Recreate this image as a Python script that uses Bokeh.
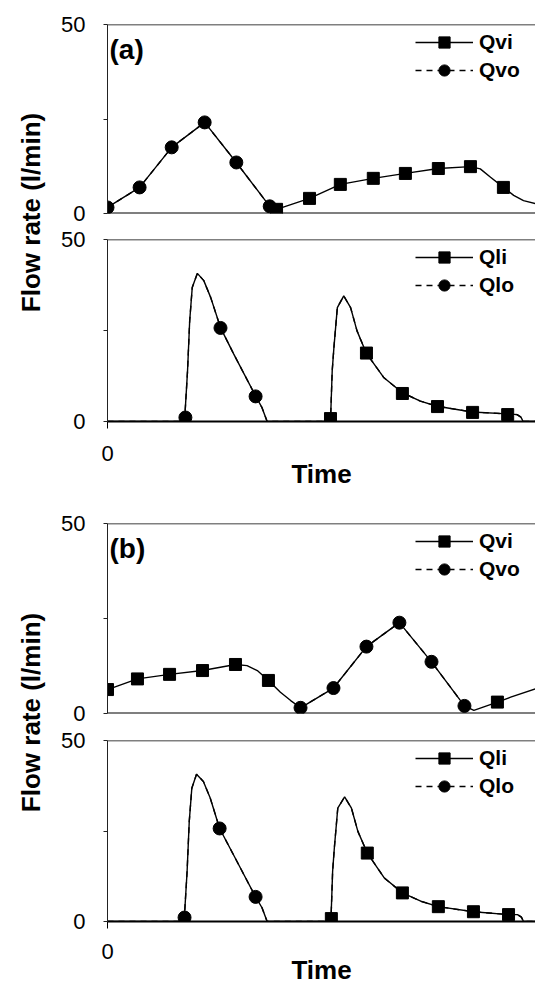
from bokeh.plotting import figure
from bokeh.layouts import column, row
from bokeh.models import Range1d, Span, Label, Legend, LegendItem, FixedTicker
from bokeh.embed import file_html
from bokeh.resources import INLINE

FONT = "Liberation Sans"

# ---------------- data (time in arbitrary units 0..100, flow in l/min) -------------
# Panel (a) upper: vapour flows
a_up_qvo_t = [0.0, 7.5, 15.0, 22.7, 30.1, 37.9]
a_up_qvo_v = [1.6, 6.9, 17.5, 24.1, 13.5, 1.9]
a_up_qvi_t = [39.5, 47.2, 54.4, 62.1, 69.6, 77.3, 84.8, 92.5]
a_up_qvi_v = [1.1, 4.0, 7.7, 9.3, 10.6, 11.9, 12.4, 6.9]
a_up_curve_vo_t = [0.0, 7.5, 15.0, 22.7, 30.1, 37.9]
a_up_curve_vo_v = [1.6, 6.9, 17.5, 24.1, 13.5, 1.9]
a_up_curve_vi_t = [37.9, 39.5, 47.2, 54.4, 62.1, 69.6, 77.3, 84.8, 87.1, 89.5, 92.5, 94.9, 97.2, 100.0]
a_up_curve_vi_v = [1.9, 1.1, 4.0, 7.7, 9.3, 10.6, 11.9, 12.4, 11.8, 9.6, 6.9, 4.8, 3.4, 2.6]

# Panel (a) lower: liquid flows
a_lo_qlo_t = [18.2, 26.4, 34.6]
a_lo_qlo_v = [1.1, 25.7, 6.9]
a_lo_qli_t = [52.1, 60.5, 68.9, 77.1, 85.3, 93.5]
a_lo_qli_v = [0.8, 18.8, 7.7, 4.1, 2.5, 1.9]
a_lo_curve_t = [0.0, 18.0, 18.7, 19.2, 19.8, 21.0, 22.5, 24.1, 26.4, 29.5, 34.6, 36.1, 37.3,
                52.1, 52.5, 52.9, 53.7, 55.2, 56.8, 58.3, 60.5, 64.6, 68.9, 73.1, 77.0, 85.2,
                93.4, 95.7, 96.6, 97.1, 100.0]
a_lo_curve_v = [0.0, 0.0, 13.9, 27.6, 36.8, 40.7, 38.7, 34.1, 25.8, 18.5, 7.0, 3.8, 0.0,
                0.0, 13.9, 20.3, 31.3, 34.5, 31.3, 24.9, 18.7, 12.0, 7.9, 5.6, 4.2, 2.6,
                2.1, 1.9, 1.2, 0.0, 0.0]

# Panel (b) upper
b_up_qvi1_t = [0.0, 7.0, 14.5, 22.2, 29.9, 37.6]
b_up_qvi1_v = [6.3, 9.1, 10.3, 11.3, 12.9, 8.7]
b_up_qvo_t = [45.1, 52.8, 60.5, 68.2, 75.7, 83.4]
b_up_qvo_v = [1.5, 6.7, 17.6, 23.9, 13.6, 2.0]
b_up_qvi2_t = [91.1]
b_up_qvi2_v = [3.0]
b_up_curve_vi1_t = [0.0, 7.0, 14.5, 22.2, 29.9, 32.6, 35.0, 37.6, 40.4, 42.8, 45.1]
b_up_curve_vi1_v = [6.3, 9.1, 10.3, 11.3, 12.9, 12.6, 11.3, 8.7, 5.6, 3.4, 1.5]
b_up_curve_vo_t = [45.1, 52.8, 60.5, 68.2, 75.7, 83.4]
b_up_curve_vo_v = [1.5, 6.7, 17.6, 23.9, 13.6, 2.0]
b_up_curve_vi2_t = [83.4, 85.6, 91.1, 94.2, 100.0]
b_up_curve_vi2_v = [2.0, 0.8, 3.0, 4.3, 6.5]

# Panel (b) lower
b_lo_qlo_t = [18.0, 26.2, 34.6]
b_lo_qlo_v = [1.1, 25.7, 6.8]
b_lo_qli_t = [52.3, 60.7, 68.9, 77.3, 85.5, 93.7]
b_lo_qli_v = [0.8, 18.9, 7.9, 4.1, 2.7, 1.9]
b_lo_curve_t = [0.0, 17.9, 18.6, 19.1, 19.7, 20.8, 22.4, 24.0, 26.2, 29.4, 34.6, 36.1, 37.3,
                52.2, 52.6, 53.0, 53.8, 55.4, 57.0, 58.5, 60.7, 64.7, 68.9, 73.2, 77.3, 85.5,
                93.7, 95.8, 96.7, 97.2, 100.0]
b_lo_curve_v = [0.0, 0.0, 13.9, 27.6, 36.8, 40.7, 38.7, 34.1, 25.7, 18.5, 6.8, 3.8, 0.0,
                0.0, 13.9, 20.3, 31.3, 34.4, 31.3, 24.9, 18.9, 12.0, 7.9, 5.6, 4.1, 2.7,
                1.9, 1.9, 1.2, 0.0, 0.0]

y_ticks = [0, 25, 50]
x_ticks = [0]

# ---------------- layout constants ----------------
TOTAL_W = 535
W0 = 53           # width of the y-label strip
PW = TOTAL_W - W0 # width of panel figures
BL = 54           # left border of panel figures -> frame starts at x=107


def base_panel(height, btop, bbot, with_xaxis, lab_standoff=17, title_standoff=-5):
    p = figure(width=PW, height=height, x_range=Range1d(0, 100), y_range=Range1d(0, 50),
               output_backend="svg", toolbar_location=None,
               x_axis_location="below" if with_xaxis else None,
               min_border_left=BL, min_border_right=0,
               min_border_top=btop, min_border_bottom=bbot)
    p.outline_line_color = None
    p.grid.visible = False
    p.background_fill_color = "white"
    ya = p.yaxis[0]
    ya.ticker = FixedTicker(ticks=y_ticks)
    ya.major_label_overrides = {25: ""}
    ya.minor_tick_line_color = None
    ya.major_tick_out = 4
    ya.major_tick_in = 0
    ya.major_label_standoff = 18
    ya.major_label_text_font = FONT
    ya.major_label_text_font_size = "22px"
    ya.major_label_text_color = "black"
    ya.axis_line_color = "#222222"
    ya.major_tick_line_color = "#222222"
    p.add_layout(Span(location=50, dimension="width", line_color="black", line_width=1.5))
    if with_xaxis:
        xa = p.xaxis[0]
        xa.ticker = FixedTicker(ticks=x_ticks)
        xa.minor_tick_line_color = None
        xa.major_tick_out = 7
        xa.major_tick_in = 0
        xa.major_label_standoff = lab_standoff
        xa.major_label_text_font = FONT
        xa.major_label_text_font_size = "22px"
        xa.major_label_text_color = "black"
        xa.axis_line_color = "black"
        xa.axis_line_width = 2
        xa.axis_label = "Time"
        xa.axis_label_text_font = FONT
        xa.axis_label_text_font_size = "26px"
        xa.axis_label_text_font_style = "bold"
        xa.axis_label_text_color = "black"
        xa.axis_label_standoff = title_standoff
    else:
        p.add_layout(Span(location=0, dimension="width", line_color="black", line_width=2))
    return p


def add_legend(p, items):
    leg = Legend(items=items, location="top_right", border_line_color=None,
                 background_fill_alpha=0, label_text_font=FONT,
                 label_text_font_size="21px", label_text_font_style="bold",
                 glyph_width=58, glyph_height=28, label_standoff=6, label_width=52,
                 spacing=0, padding=0, margin=4)
    leg.label_text_color = "black"
    p.add_layout(leg)


def curve(p, t, v, dash="solid"):
    return p.line(t, v, line_color="black", line_width=1.4, line_dash=dash)


def squares(p, t, v):
    return p.scatter(t, v, marker="square", size=12, color="black")


def circles(p, t, v):
    return p.scatter(t, v, marker="circle", size=13, color="black")


def tag(p, text):
    p.add_layout(Label(x=0, y=50, x_offset=2, y_offset=-25, text=text,
                       text_font=FONT, text_font_size="28px", text_font_style="bold",
                       text_baseline="middle", text_align="left", text_color="black"))


def ylabel_strip(height, center_from_top):
    s = figure(width=W0, height=height, x_range=Range1d(0, W0), y_range=Range1d(0, height),
               output_backend="svg", toolbar_location=None,
               x_axis_location=None, y_axis_location=None, min_border=0)
    s.outline_line_color = None
    s.grid.visible = False
    s.add_layout(Label(x=30, y=height - center_from_top, text="Flow rate (l/min)",
                       angle=90, angle_units="deg", text_align="center",
                       text_baseline="middle", text_font=FONT, text_font_size="26px",
                       text_font_style="bold", text_color="black"))
    return s


DASH = "6 5"

# ---------------- panel (a) ----------------
a1 = base_panel(226, 24, 13, False)
d_vo = curve(a1, a_up_curve_vo_t, a_up_curve_vo_v, DASH)   # Qvo series (dashed style)
l_vo = curve(a1, a_up_curve_vo_t, a_up_curve_vo_v)          # measured trace over it
l_vi = curve(a1, a_up_curve_vi_t, a_up_curve_vi_v)
c_vo = circles(a1, a_up_qvo_t, a_up_qvo_v)
s_vi = squares(a1, a_up_qvi_t, a_up_qvi_v)
add_legend(a1, [LegendItem(label="Qvi", renderers=[l_vi, s_vi]),
                LegendItem(label="Qvo", renderers=[d_vo, c_vo])])
tag(a1, "(a)")

a2 = base_panel(265, 13, 70, True)
d_lo = curve(a2, a_lo_curve_t, a_lo_curve_v, DASH)
l_l = curve(a2, a_lo_curve_t, a_lo_curve_v)
c_lo = circles(a2, a_lo_qlo_t, a_lo_qlo_v)
s_li = squares(a2, a_lo_qli_t, a_lo_qli_v)
add_legend(a2, [LegendItem(label="Qli", renderers=[l_l, s_li]),
                LegendItem(label="Qlo", renderers=[d_lo, c_lo])])

# ---------------- panel (b) ----------------
b1 = base_panel(235, 32, 13, False)
db_vo = curve(b1, b_up_curve_vo_t, b_up_curve_vo_v, DASH)
lb_vi1 = curve(b1, b_up_curve_vi1_t, b_up_curve_vi1_v)
lb_vo = curve(b1, b_up_curve_vo_t, b_up_curve_vo_v)
lb_vi2 = curve(b1, b_up_curve_vi2_t, b_up_curve_vi2_v)
sb_vi1 = squares(b1, b_up_qvi1_t, b_up_qvi1_v)
cb_vo = circles(b1, b_up_qvo_t, b_up_qvo_v)
sb_vi2 = squares(b1, b_up_qvi2_t, b_up_qvi2_v)
add_legend(b1, [LegendItem(label="Qvi", renderers=[lb_vi1, sb_vi1]),
                LegendItem(label="Qvo", renderers=[db_vo, cb_vo])])
tag(b1, "(b)")

b2 = base_panel(261, 14, 64, True, lab_standoff=15, title_standoff=-7)
db_lo = curve(b2, b_lo_curve_t, b_lo_curve_v, DASH)
lb_l = curve(b2, b_lo_curve_t, b_lo_curve_v)
cb_lo = circles(b2, b_lo_qlo_t, b_lo_qlo_v)
sb_li = squares(b2, b_lo_qli_t, b_lo_qli_v)
add_legend(b2, [LegendItem(label="Qli", renderers=[lb_l, sb_li]),
                LegendItem(label="Qlo", renderers=[db_lo, cb_lo])])

ya_strip = ylabel_strip(226 + 265, 212)
yb_strip = ylabel_strip(235 + 261, 712 - 491)

layout = column(row(ya_strip, column(a1, a2, spacing=0), spacing=0),
                row(yb_strip, column(b1, b2, spacing=0), spacing=0), spacing=0)

open("out.html", "w").write(file_html(layout, INLINE))
